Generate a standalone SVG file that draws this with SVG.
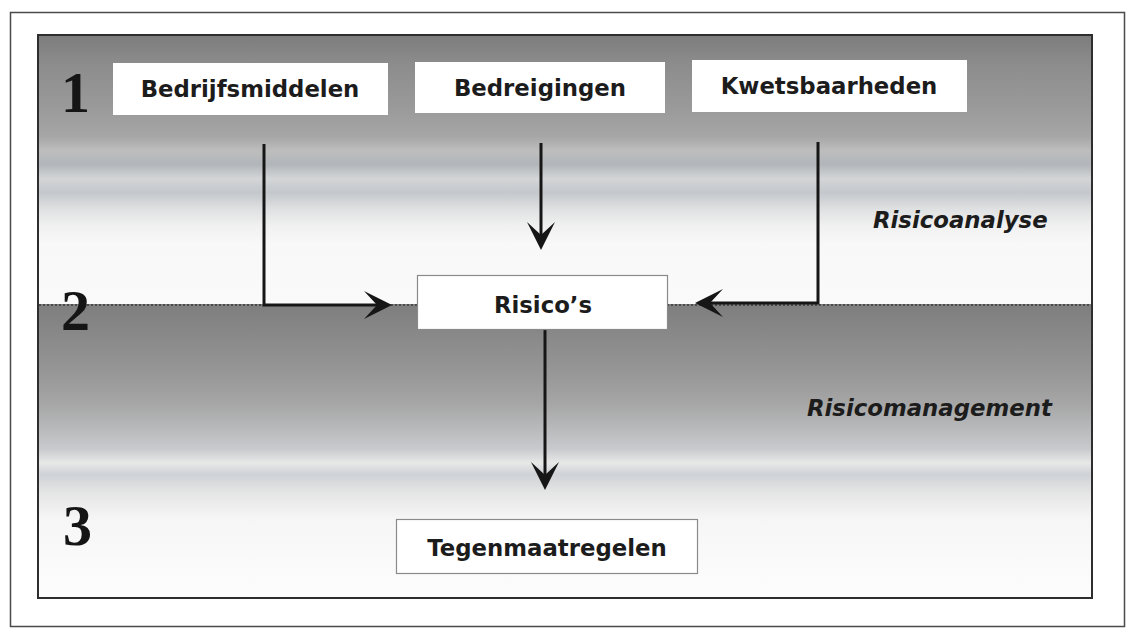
<svg xmlns="http://www.w3.org/2000/svg" width="1132" height="629" viewBox="0 0 1132 629">
  <defs>
    <linearGradient id="panelFill" gradientUnits="userSpaceOnUse" x1="0" y1="35" x2="0" y2="598">
      <stop offset="0" stop-color="#7c7c7c"/>
      <stop offset="0.05" stop-color="#8c8c8c"/>
      <stop offset="0.13" stop-color="#9a9a9a"/>
      <stop offset="0.18" stop-color="#a6a6a6"/>
      <stop offset="0.205" stop-color="#bdbdbd"/>
      <stop offset="0.23" stop-color="#b2b6ba"/>
      <stop offset="0.255" stop-color="#d3d5d7"/>
      <stop offset="0.28" stop-color="#c4c8cc"/>
      <stop offset="0.31" stop-color="#e0e1e2"/>
      <stop offset="0.34" stop-color="#f1f1f1"/>
      <stop offset="0.37" stop-color="#f8f8f8"/>
      <stop offset="0.477" stop-color="#fafafa"/>
      <stop offset="0.478" stop-color="#7e7e7e"/>
      <stop offset="0.54" stop-color="#8a8a8a"/>
      <stop offset="0.61" stop-color="#999999"/>
      <stop offset="0.66" stop-color="#a8a8a8"/>
      <stop offset="0.70" stop-color="#b8babc"/>
      <stop offset="0.735" stop-color="#c8cacd"/>
      <stop offset="0.76" stop-color="#e8e8e8"/>
      <stop offset="0.78" stop-color="#cfd2d6"/>
      <stop offset="0.815" stop-color="#e6e6e6"/>
      <stop offset="0.86" stop-color="#f6f6f6"/>
      <stop offset="1" stop-color="#fdfdfd"/>
    </linearGradient>
    <!-- barbed arrowhead, tip at origin pointing along +x -->
    <path id="head" d="M0,0 L-28,-14 L-15,0 L-28,14 Z"/>
  </defs>
  <style>
    .frame { fill: #ffffff; stroke: #4a4a4a; stroke-width: 1.5; }
    .panel { fill: url(#panelFill); stroke: #2e2e2e; stroke-width: 2; }
    .box { fill: #ffffff; }
    .box-outlined { fill: #ffffff; stroke: #8a8a8a; stroke-width: 1.2; }
    .label { font-family: "DejaVu Sans", Verdana, sans-serif; font-weight: bold; font-size: 22.8px; fill: #1c1c1c; text-anchor: middle; }
    .phase { font-family: "DejaVu Sans", Verdana, sans-serif; font-weight: bold; font-style: italic; font-size: 22.8px; fill: #1c1c1c; }
    .num { font-family: "Liberation Serif", "Times New Roman", serif; font-weight: bold; font-size: 58px; fill: #151515; }
    .wire { fill: none; stroke: #161616; stroke-width: 3; }
    .tip { fill: #161616; }
    .divider { stroke: #4a4a4a; stroke-width: 2; stroke-dasharray: 2 2; }
  </style>

  <!-- outer page frame and shaded panel -->
  <rect class="frame" x="10.5" y="12.5" width="1114" height="614"/>
  <rect class="panel" x="38" y="35" width="1054" height="563"/>
  <line class="divider" x1="39" y1="305" x2="1091" y2="305"/>

  <!-- step numbers -->
  <text class="num" x="61" y="112">1</text>
  <text class="num" x="61" y="330">2</text>
  <text class="num" x="63" y="545">3</text>

  <!-- phase labels -->
  <text class="phase" x="873" y="228">Risicoanalyse</text>
  <text class="phase" x="807" y="416">Risicomanagement</text>

  <!-- connectors -->
  <g id="connectors">
    <path class="wire" d="M264,144 V305 H380"/>
    <use href="#head" class="tip" transform="translate(392,305)"/>
    <path class="wire" d="M541,143 V238"/>
    <use href="#head" class="tip" transform="translate(541,250) rotate(90)"/>
    <path class="wire" d="M818,142 V303 H707"/>
    <use href="#head" class="tip" transform="translate(695,303) rotate(180)"/>
    <path class="wire" d="M545,330 V478"/>
    <use href="#head" class="tip" transform="translate(545,490) rotate(90)"/>
  </g>

  <!-- nodes -->
  <g id="bedrijfsmiddelen">
    <rect class="box" x="113" y="63" width="275" height="52"/>
    <text class="label" x="250" y="97">Bedrijfsmiddelen</text>
  </g>
  <g id="bedreigingen">
    <rect class="box" x="415" y="62" width="250" height="51"/>
    <text class="label" x="540" y="96">Bedreigingen</text>
  </g>
  <g id="kwetsbaarheden">
    <rect class="box" x="692" y="60" width="275" height="52"/>
    <text class="label" x="829" y="94">Kwetsbaarheden</text>
  </g>
  <g id="risicos">
    <rect class="box-outlined" x="417.5" y="275.5" width="250" height="54"/>
    <text class="label" x="543" y="313">Risico’s</text>
  </g>
  <g id="tegenmaatregelen">
    <rect class="box-outlined" x="396.5" y="519.5" width="301" height="54"/>
    <text class="label" x="547" y="556">Tegenmaatregelen</text>
  </g>
</svg>
